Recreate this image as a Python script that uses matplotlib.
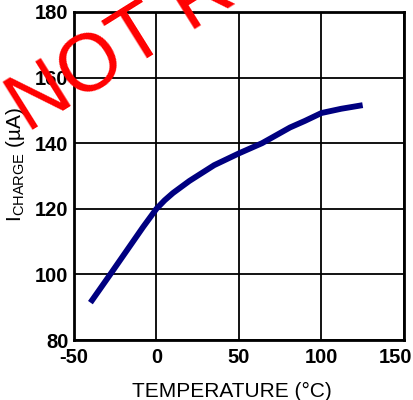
import matplotlib
matplotlib.use("Agg")
import matplotlib.pyplot as plt
from matplotlib.transforms import ScaledTranslation

# temperature (°C) vs charge current (µA)
temp = [-40, -28, -20, -8, 0, 5, 10, 20, 35, 50, 64, 81, 90, 100, 112, 125]
i_charge = [91.4, 100, 105.8, 114.5, 120.0, 122.6, 124.8, 128.5, 133.3, 136.9,
            140.0, 144.8, 146.8, 149.2, 150.5, 151.6]

x_ticks = [-50, 0, 50, 100, 150]
y_ticks = [80, 100, 120, 140, 160, 180]

plt.rcParams['font.family'] = ['Liberation Sans', 'DejaVu Sans']
plt.rcParams['axes.unicode_minus'] = False

fig = plt.figure(figsize=(4.13, 4.00), dpi=100)
ax = fig.add_axes([0.179, 0.15, 0.799, 0.82])

ax.plot(temp, i_charge, color='#000080', lw=4.2, solid_capstyle='butt', zorder=3)

ax.set_xlim(-50, 150)
ax.set_ylim(80, 180)
ax.set_xticks(x_ticks)
ax.set_yticks(y_ticks)
ax.tick_params(length=0, labelsize=14.5)
ax.tick_params(axis='x', pad=6)
ax.tick_params(axis='y', pad=4)
for lab in ax.get_xticklabels() + ax.get_yticklabels():
    lab.set_fontweight('bold')
# last x label sits a bit left so it stays inside the picture
last = ax.get_xticklabels()[-1]
last.set_transform(last.get_transform() + ScaledTranslation(-0.08, 0, fig.dpi_scale_trans))
ax.grid(True, color='black', lw=1.3)
for s in ax.spines.values():
    s.set_linewidth(2)
    s.set_zorder(4)

ax.set_xlabel('TEMPERATURE (°C)', fontsize=15)
ax.xaxis.set_label_coords(0.48, -0.128)
ax.set_ylabel(r'I$_{\mathregular{CHARGE}}$ (µA)', fontsize=15)
ax.yaxis.set_label_coords(-0.142, 0.535)

# red watermark
fig.text(0.066, 0.666, 'NOT RECOMMENDED FOR NEW DESIGNS', color='red', fontsize=58,
         rotation=32, rotation_mode='anchor', ha='left', va='baseline', zorder=10)

fig.savefig('out.png', dpi=100)
